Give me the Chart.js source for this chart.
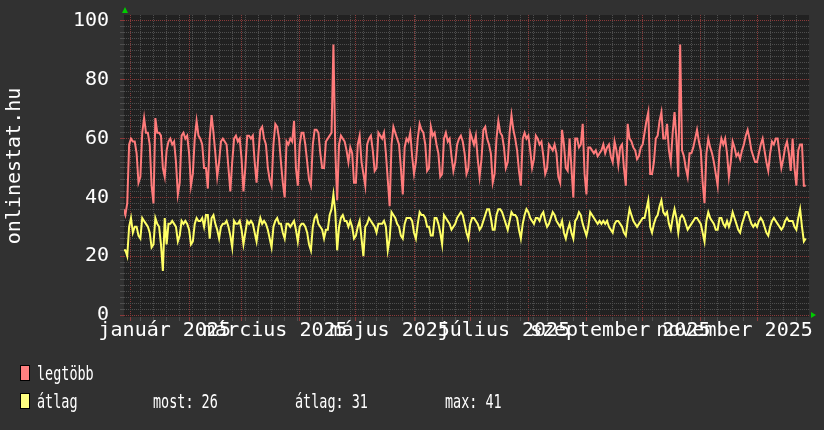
<!DOCTYPE html>
<html>
<head>
<meta charset="utf-8">
<script src="https://cdn.jsdelivr.net/npm/chart.js@4/dist/chart.umd.min.js"></script>
<style>
  html, body { margin: 0; padding: 0; background: #313131; }
  canvas { display: block; }
</style>
</head>
<body>
<canvas id="grafikon" width="824" height="430" style="width:824px;height:430px"></canvas>
<script>
// Napi adatok: 2024. dec. 28-tól (nap = -4) 2025. dec. 27-ig (nap = 360)
const elsoNap = -4;

// legtöbb (napi maximum), hetente: hétfő..vasárnap
const legtobb = [
  36, 34,
  38, 58, 60, 59, 59, 55, 45,
  47, 62, 67, 62, 62, 58, 44,
  38, 67, 62, 62, 61, 50, 47,
  56, 59, 60, 58, 59, 52, 41,
  45, 61, 62, 60, 61, 55, 44,
  48, 60, 66, 61, 60, 58, 50,
  50, 43, 60, 68, 62, 55, 47,
  52, 59, 60, 59, 58, 50, 42,
  52, 60, 61, 59, 60, 53, 42,
  50, 61, 61, 60, 61, 52, 45,
  55, 63, 64, 60, 58, 50, 46,
  44, 58, 65, 64, 60, 52, 45,
  40, 59, 58, 60, 59, 66, 50,
  44, 58, 62, 62, 58, 52, 46,
  44, 58, 63, 63, 62, 55, 50,
  50, 59, 60, 61, 62, 92, 56,
  39, 58, 61, 60, 59, 56, 52,
  57, 55, 45, 45, 58, 61, 52,
  48, 44, 58, 60, 61, 56, 49,
  50, 62, 61, 60, 62, 55, 46,
  37, 58, 64, 62, 60, 58, 50,
  41, 57, 60, 59, 62, 54, 48,
  52, 60, 65, 63, 62, 58, 49,
  50, 64, 61, 62, 58, 55, 47,
  48, 60, 62, 59, 60, 54, 49,
  52, 58, 60, 61, 59, 55, 48,
  50, 62, 60, 58, 61, 53, 47,
  53, 63, 64, 60, 58, 55, 45,
  48, 60, 66, 62, 61, 57, 50,
  52, 62, 68, 63, 60, 56, 49,
  44, 60, 62, 60, 61, 56, 50,
  53, 61, 60, 58, 59, 54, 48,
  50, 58, 57, 56, 58, 55, 47,
  45, 63, 58, 50, 49, 60, 50,
  40, 60, 60, 57, 58, 65, 48,
  41, 57, 57, 56, 55, 56, 54,
  55, 56, 58, 55, 57, 58, 54,
  52, 59, 56, 51, 57, 58, 50,
  44, 65, 60, 59, 57, 56, 53,
  54, 57, 58, 62, 66, 69, 48,
  48, 52, 60, 61, 66, 69, 60,
  60, 65, 56, 52, 62, 69, 60,
  47, 92, 56, 54, 50, 47, 55,
  55, 57, 60, 63, 59, 56, 45,
  38, 55, 60, 57, 55, 52, 48,
  44, 56, 60, 58, 60, 55, 47,
  52, 59, 57, 54, 55, 53, 56,
  58, 61, 63, 60, 56, 54, 52,
  52, 55, 58, 60, 56, 52, 49,
  55, 59, 58, 60, 60, 55, 50,
  53, 57, 59, 55, 49, 60, 50,
  44, 56, 58, 58, 44, 44
];

// átlag (napi átlag), ugyanazokra a napokra
const atlag = [
  22, 22,
  20, 30, 33, 28, 30, 30, 27,
  26, 33, 32, 31, 30, 28, 23,
  24, 33, 31, 30, 24, 15, 33,
  24, 31, 31, 32, 31, 30, 25,
  27, 32, 31, 32, 31, 29, 24,
  25, 31, 33, 32, 32, 33, 30,
  34, 34, 26, 33, 34, 31, 29,
  26, 30, 31, 31, 32, 30, 27,
  23, 32, 31, 31, 32, 29, 24,
  28, 32, 31, 32, 31, 28, 25,
  30, 33, 31, 32, 31, 29, 26,
  23, 30, 32, 33, 31, 31, 28,
  26, 31, 31, 30, 31, 32, 29,
  25, 30, 31, 31, 30, 28, 24,
  22, 30, 33, 34, 31, 30, 29,
  26, 29, 29, 34, 36, 41, 35,
  22, 30, 33, 34, 32, 32, 30,
  32, 30, 26, 27, 30, 32, 26,
  20, 30, 31, 33, 32, 31, 30,
  28, 31, 31, 31, 32, 30, 22,
  26, 35, 34, 33, 31, 30, 27,
  26, 31, 33, 33, 33, 32, 28,
  26, 31, 35, 34, 34, 33, 30,
  30, 27, 27, 33, 33, 31, 28,
  24, 34, 33, 32, 31, 29, 30,
  31, 33, 34, 35, 34, 31, 28,
  26, 31, 33, 33, 32, 31, 29,
  30, 32, 34, 36, 36, 33, 29,
  29, 34, 36, 36, 35, 33, 31,
  29, 32, 35, 34, 34, 33, 29,
  26, 31, 34, 36, 35, 33, 32,
  31, 33, 33, 32, 34, 35, 32,
  30, 31, 33, 35, 34, 32, 31,
  30, 32, 28, 26, 29, 31, 28,
  26, 32, 33, 35, 34, 31, 29,
  27, 30, 35, 34, 33, 32, 31,
  32, 31, 32, 31, 32, 30, 29,
  28, 31, 32, 32, 31, 30, 28,
  27, 32, 36, 34, 32, 31, 30,
  31, 32, 33, 33, 36, 39, 30,
  28, 31, 33, 34, 37, 39, 35,
  34, 35, 31, 29, 33, 36, 33,
  28, 33, 34, 33, 31, 29, 30,
  31, 32, 33, 33, 32, 31, 28,
  25, 32, 35, 33, 32, 31, 29,
  29, 33, 33, 31, 30, 32, 30,
  32, 35, 33, 31, 29, 28, 31,
  33, 35, 35, 33, 31, 30, 31,
  30, 32, 33, 32, 30, 28, 27,
  30, 32, 33, 32, 31, 30, 29,
  30, 32, 33, 32, 32, 32, 30,
  29, 33, 36, 30, 25, 26
];

// hónapok kezdőnapjai (2025. jan. 1 = 0)
const honapKezdet = [0, 31, 59, 90, 120, 151, 181, 212, 243, 273, 304, 334];
// feliratok és a helyük (nap)
const feliratok = ['január 2025', 'március 2025', 'május 2025', 'július 2025', 'szeptember 2025', 'november 2025'];
const feliratNapok = [18, 77, 138, 199, 261, 322];
// első hétfő
const elsoHetfo = 5;
// összesítő a jelmagyarázatban
const osszesito = ['most: 26', 'átlag: 31', 'max: 41'];

const FONT = '"DejaVu Sans Mono", monospace';
const PIROS = '#ff7b7b';
const SARGA = '#ffff66';
const FO_RACS = '#8a3a3a';
const MELLEK_RACS = '#4e4e4e';

function pontok(sor) {
  return sor.map((v, i) => ({ x: elsoNap + i, y: v }));
}

// x tengely osztásai: hetek, hónapok, feliratok
function xOsztasok() {
  const lista = [];
  honapKezdet.forEach(n => lista.push({ value: n, tipus: 'honap' }));
  for (let n = elsoHetfo; n <= 361; n += 7) {
    if (!honapKezdet.includes(n)) lista.push({ value: n, tipus: 'het' });
  }
  feliratNapok.forEach((n, i) => lista.push({ value: n, tipus: 'felirat', felirat: feliratok[i] }));
  return lista.sort((a, b) => a.value - b.value);
}

function yOsztasok() {
  const lista = [];
  for (let v = 0; v <= 100; v += 2) lista.push({ value: v });
  return lista;
}

// háttér: keret és rajzterület
const hatter = {
  id: 'hatter',
  beforeDraw(chart) {
    const { ctx, chartArea: a } = chart;
    ctx.save();
    ctx.fillStyle = '#313131';
    ctx.fillRect(0, 0, chart.width, chart.height);
    ctx.fillStyle = '#212121';
    ctx.fillRect(a.left, a.top, a.right - a.left, a.bottom - a.top);
    ctx.restore();
  }
};

// keskenyített szöveg, mint az rrdtool jelmagyarázatában
function keskenySzoveg(ctx, szoveg, x, y) {
  ctx.save();
  ctx.translate(x, y);
  ctx.scale(0.673, 1);
  ctx.font = '20px ' + FONT;
  ctx.fillStyle = '#ffffff';
  ctx.textBaseline = 'alphabetic';
  ctx.textAlign = 'left';
  ctx.fillText(szoveg, 0, 0);
  ctx.restore();
}

// jelmagyarázat és tengelynyilak
const jelmagyarazat = {
  id: 'jelmagyarazat',
  afterDraw(chart) {
    const { ctx, chartArea: a } = chart;
    ctx.save();
    chart.data.datasets.forEach((ds, i) => {
      const y = 365 + i * 28;
      ctx.fillStyle = ds.jelSzin;
      ctx.fillRect(20, y, 10, 16);
      ctx.strokeStyle = '#000000';
      ctx.lineWidth = 1;
      ctx.strokeRect(20.5, y + 0.5, 9, 15);
      keskenySzoveg(ctx, ds.label, 37, y + 15);
    });
    const helyek = [153, 295, 445];
    osszesito.forEach((t, i) => keskenySzoveg(ctx, t, helyek[i], 408));

    // zöld nyilak
    ctx.fillStyle = '#00cc00';
    const x0 = a.left + 1;
    ctx.beginPath();
    ctx.moveTo(x0 - 3, 13);
    ctx.lineTo(x0 + 3, 13);
    ctx.lineTo(x0, 7);
    ctx.closePath();
    ctx.fill();
    const y0 = chart.scales.y.getPixelForValue(0);
    ctx.beginPath();
    ctx.moveTo(a.right + 2, y0 - 3);
    ctx.lineTo(a.right + 2, y0 + 3);
    ctx.lineTo(a.right + 7, y0);
    ctx.closePath();
    ctx.fill();
    ctx.restore();
  }
};

const grafikon = new Chart(document.getElementById('grafikon'), {
  type: 'line',
  data: {
    datasets: [
      {
        label: 'legtöbb',
        data: pontok(legtobb),
        borderColor: PIROS,
        jelSzin: '#ff8080',
        borderWidth: 2,
        pointRadius: 0,
        tension: 0
      },
      {
        label: 'átlag',
        data: pontok(atlag),
        borderColor: SARGA,
        jelSzin: '#ffff80',
        borderWidth: 2,
        pointRadius: 0,
        tension: 0
      }
    ]
  },
  options: {
    responsive: false,
    animation: false,
    devicePixelRatio: 1,
    layout: { padding: { top: 15, right: 15, left: 0, bottom: 0 } },
    plugins: {
      legend: { display: false },
      tooltip: { enabled: false }
    },
    scales: {
      x: {
        type: 'linear',
        min: -3.73,
        max: 361.74,
        afterBuildTicks: s => { s.ticks = xOsztasok(); },
        afterFit: s => { s.height = 113; s.paddingLeft = 0; s.paddingRight = 0; },
        border: { display: false, dash: [1, 1] },
        grid: {
          lineWidth: 1,
          tickLength: 4,
          color: c => c.tick.tipus === 'honap' ? FO_RACS : (c.tick.tipus === 'het' ? MELLEK_RACS : 'rgba(0,0,0,0)'),
          tickColor: c => c.tick.tipus === 'honap' ? FO_RACS : (c.tick.tipus === 'het' ? MELLEK_RACS : 'rgba(0,0,0,0)')
        },
        ticks: {
          autoSkip: false,
          maxRotation: 0,
          minRotation: 0,
          padding: -2,
          color: '#ffffff',
          font: { family: FONT, size: 20 },
          callback: (v, i, t) => t[i].felirat || ''
        }
      },
      y: {
        min: -0.68,
        max: 102.04,
        afterBuildTicks: s => { s.ticks = yOsztasok(); },
        afterFit: s => { s.width = 124; s.paddingTop = 0; s.paddingBottom = 0; },
        border: { display: false, dash: [1, 1] },
        grid: {
          lineWidth: 1,
          tickLength: 4,
          color: c => c.tick.value % 20 === 0 ? FO_RACS : MELLEK_RACS,
          tickColor: c => c.tick.value % 20 === 0 ? FO_RACS : MELLEK_RACS
        },
        ticks: {
          autoSkip: false,
          padding: 11,
          color: '#ffffff',
          font: { family: FONT, size: 20 },
          callback: v => v % 20 === 0 ? String(v) : ''
        },
        title: {
          display: true,
          text: 'onlinestat.hu',
          color: '#ffffff',
          font: { family: FONT, size: 20 },
          padding: { top: 3, bottom: 0 }
        }
      }
    }
  },
  plugins: [hatter, jelmagyarazat]
});
</script>
</body>
</html>
